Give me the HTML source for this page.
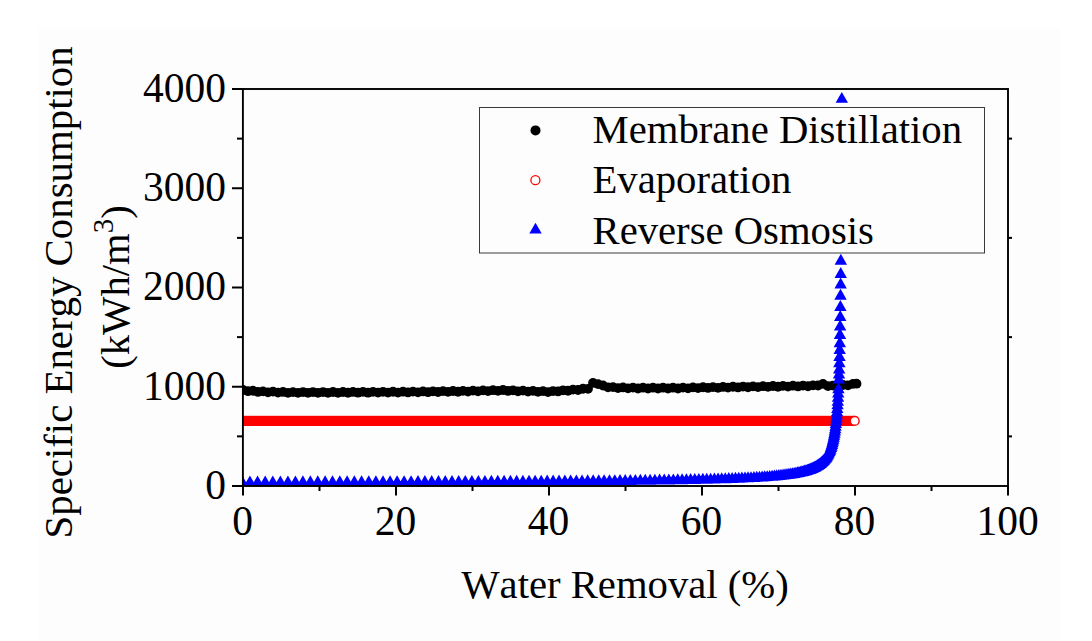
<!DOCTYPE html>
<html><head><meta charset="utf-8"><title>Specific Energy Consumption vs Water Removal</title>
<style>
html,body{margin:0;padding:0;background:#fff;}
body{width:1092px;height:641px;overflow:hidden;position:relative;font-family:"Liberation Serif",serif;}
#bg{position:absolute;left:38px;top:29px;width:1023px;height:612px;background:#fdfdfd;}
svg{position:absolute;left:0;top:0;}
text{font-family:"Liberation Serif",serif;font-kerning:none;fill:#000;}
</style></head><body>
<div id="bg"></div>
<svg width="1092" height="641" viewBox="0 0 1092 641">
<defs><clipPath id="pc"><rect x="243" y="89" width="765" height="397"/></clipPath></defs>
<g clip-path="url(#pc)">
<rect x="242.0" y="415.79999999999995" width="612.7" height="10.2" fill="#f00"/>
<circle cx="854.7" cy="420.9" r="4.4" fill="#fff" stroke="#f00" stroke-width="1.4"/>
<g fill="#000">
<circle cx="243.00" cy="390.00" r="4.9"/>
<circle cx="248.00" cy="391.18" r="4.9"/>
<circle cx="253.00" cy="390.76" r="4.9"/>
<circle cx="258.00" cy="391.95" r="4.9"/>
<circle cx="263.00" cy="391.38" r="4.9"/>
<circle cx="268.00" cy="392.32" r="4.9"/>
<circle cx="273.00" cy="391.66" r="4.9"/>
<circle cx="278.00" cy="392.60" r="4.9"/>
<circle cx="283.00" cy="391.94" r="4.9"/>
<circle cx="288.00" cy="392.88" r="4.9"/>
<circle cx="293.00" cy="392.09" r="4.9"/>
<circle cx="298.00" cy="392.88" r="4.9"/>
<circle cx="303.00" cy="392.07" r="4.9"/>
<circle cx="308.00" cy="392.86" r="4.9"/>
<circle cx="313.00" cy="392.05" r="4.9"/>
<circle cx="318.00" cy="392.84" r="4.9"/>
<circle cx="323.00" cy="392.03" r="4.9"/>
<circle cx="328.00" cy="392.82" r="4.9"/>
<circle cx="333.00" cy="392.01" r="4.9"/>
<circle cx="338.00" cy="392.80" r="4.9"/>
<circle cx="343.00" cy="391.99" r="4.9"/>
<circle cx="348.00" cy="392.76" r="4.9"/>
<circle cx="353.00" cy="391.94" r="4.9"/>
<circle cx="358.00" cy="392.72" r="4.9"/>
<circle cx="363.00" cy="391.90" r="4.9"/>
<circle cx="368.00" cy="392.67" r="4.9"/>
<circle cx="373.00" cy="391.85" r="4.9"/>
<circle cx="378.00" cy="392.63" r="4.9"/>
<circle cx="383.00" cy="391.80" r="4.9"/>
<circle cx="388.00" cy="392.58" r="4.9"/>
<circle cx="393.00" cy="391.76" r="4.9"/>
<circle cx="398.00" cy="392.54" r="4.9"/>
<circle cx="403.00" cy="391.71" r="4.9"/>
<circle cx="408.00" cy="392.47" r="4.9"/>
<circle cx="413.00" cy="391.59" r="4.9"/>
<circle cx="418.00" cy="392.32" r="4.9"/>
<circle cx="423.00" cy="391.45" r="4.9"/>
<circle cx="428.00" cy="392.17" r="4.9"/>
<circle cx="433.00" cy="391.30" r="4.9"/>
<circle cx="438.00" cy="392.02" r="4.9"/>
<circle cx="443.00" cy="391.15" r="4.9"/>
<circle cx="448.00" cy="391.88" r="4.9"/>
<circle cx="453.00" cy="391.00" r="4.9"/>
<circle cx="458.00" cy="391.73" r="4.9"/>
<circle cx="463.00" cy="390.84" r="4.9"/>
<circle cx="468.00" cy="391.53" r="4.9"/>
<circle cx="473.00" cy="390.62" r="4.9"/>
<circle cx="478.00" cy="391.32" r="4.9"/>
<circle cx="483.00" cy="390.41" r="4.9"/>
<circle cx="488.00" cy="391.11" r="4.9"/>
<circle cx="493.00" cy="390.20" r="4.9"/>
<circle cx="498.00" cy="390.90" r="4.9"/>
<circle cx="503.00" cy="390.02" r="4.9"/>
<circle cx="508.00" cy="390.97" r="4.9"/>
<circle cx="513.00" cy="390.33" r="4.9"/>
<circle cx="518.00" cy="391.28" r="4.9"/>
<circle cx="523.00" cy="390.64" r="4.9"/>
<circle cx="528.00" cy="391.57" r="4.9"/>
<circle cx="533.00" cy="390.90" r="4.9"/>
<circle cx="538.00" cy="391.82" r="4.9"/>
<circle cx="543.00" cy="391.14" r="4.9"/>
<circle cx="548.00" cy="392.07" r="4.9"/>
<circle cx="553.00" cy="391.03" r="4.9"/>
<circle cx="558.00" cy="391.45" r="4.9"/>
<circle cx="563.00" cy="390.30" r="4.9"/>
<circle cx="568.00" cy="390.77" r="4.9"/>
<circle cx="573.00" cy="389.63" r="4.9"/>
<circle cx="578.00" cy="390.01" r="4.9"/>
<circle cx="583.00" cy="388.73" r="4.9"/>
<circle cx="588.00" cy="388.83" r="4.9"/>
<circle cx="593.00" cy="382.94" r="4.9"/>
<circle cx="598.00" cy="384.10" r="4.9"/>
<circle cx="603.00" cy="385.48" r="4.9"/>
<circle cx="608.00" cy="387.32" r="4.9"/>
<circle cx="613.00" cy="387.10" r="4.9"/>
<circle cx="618.00" cy="388.15" r="4.9"/>
<circle cx="623.00" cy="387.45" r="4.9"/>
<circle cx="628.00" cy="388.34" r="4.9"/>
<circle cx="633.00" cy="387.63" r="4.9"/>
<circle cx="638.00" cy="388.50" r="4.9"/>
<circle cx="643.00" cy="387.70" r="4.9"/>
<circle cx="648.00" cy="388.50" r="4.9"/>
<circle cx="653.00" cy="387.70" r="4.9"/>
<circle cx="658.00" cy="388.50" r="4.9"/>
<circle cx="663.00" cy="387.70" r="4.9"/>
<circle cx="668.00" cy="388.50" r="4.9"/>
<circle cx="673.00" cy="387.70" r="4.9"/>
<circle cx="678.00" cy="388.50" r="4.9"/>
<circle cx="683.00" cy="387.62" r="4.9"/>
<circle cx="688.00" cy="388.28" r="4.9"/>
<circle cx="693.00" cy="387.37" r="4.9"/>
<circle cx="698.00" cy="388.10" r="4.9"/>
<circle cx="703.00" cy="387.23" r="4.9"/>
<circle cx="708.00" cy="387.97" r="4.9"/>
<circle cx="713.00" cy="387.10" r="4.9"/>
<circle cx="718.00" cy="387.83" r="4.9"/>
<circle cx="723.00" cy="386.94" r="4.9"/>
<circle cx="728.00" cy="387.65" r="4.9"/>
<circle cx="733.00" cy="386.75" r="4.9"/>
<circle cx="738.00" cy="387.46" r="4.9"/>
<circle cx="743.00" cy="386.56" r="4.9"/>
<circle cx="748.00" cy="387.27" r="4.9"/>
<circle cx="753.00" cy="386.37" r="4.9"/>
<circle cx="758.00" cy="387.09" r="4.9"/>
<circle cx="763.00" cy="386.20" r="4.9"/>
<circle cx="768.00" cy="386.91" r="4.9"/>
<circle cx="773.00" cy="386.02" r="4.9"/>
<circle cx="778.00" cy="386.74" r="4.9"/>
<circle cx="783.00" cy="385.85" r="4.9"/>
<circle cx="788.00" cy="386.57" r="4.9"/>
<circle cx="793.00" cy="385.70" r="4.9"/>
<circle cx="798.00" cy="386.42" r="4.9"/>
<circle cx="803.00" cy="385.54" r="4.9"/>
<circle cx="808.00" cy="386.26" r="4.9"/>
<circle cx="813.00" cy="385.28" r="4.9"/>
<circle cx="818.00" cy="385.50" r="4.9"/>
<circle cx="823.00" cy="383.84" r="4.9"/>
<circle cx="828.00" cy="386.10" r="4.9"/>
<circle cx="833.00" cy="385.58" r="4.9"/>
<circle cx="838.00" cy="386.18" r="4.9"/>
<circle cx="843.00" cy="385.00" r="4.9"/>
<circle cx="848.00" cy="385.30" r="4.9"/>
<circle cx="853.00" cy="383.88" r="4.9"/>
<circle cx="856.5" cy="383.7" r="4.9"/>
</g>
<path fill="#0000ff" d="M242.24 475.46L248.44 486.36L236.04 486.36ZM249.92 475.45L256.12 486.35L243.72 486.35ZM257.57 475.44L263.77 486.34L251.37 486.34ZM265.20 475.42L271.40 486.32L259.00 486.32ZM272.80 475.41L279.00 486.31L266.60 486.31ZM280.37 475.40L286.57 486.30L274.17 486.30ZM287.91 475.39L294.11 486.29L281.71 486.29ZM295.42 475.38L301.62 486.28L289.22 486.28ZM302.89 475.36L309.09 486.26L296.69 486.26ZM310.34 475.35L316.54 486.25L304.14 486.25ZM317.76 475.34L323.96 486.24L311.56 486.24ZM325.14 475.32L331.34 486.22L318.94 486.22ZM332.49 475.31L338.69 486.21L326.29 486.21ZM339.81 475.29L346.01 486.19L333.61 486.19ZM347.10 475.28L353.30 486.18L340.90 486.18ZM354.35 475.26L360.55 486.16L348.15 486.16ZM361.56 475.25L367.76 486.15L355.36 486.15ZM368.75 475.23L374.95 486.13L362.55 486.13ZM375.89 475.22L382.09 486.12L369.69 486.12ZM383.00 475.20L389.20 486.10L376.80 486.10ZM390.08 475.18L396.28 486.08L383.88 486.08ZM397.11 475.17L403.31 486.07L390.91 486.07ZM404.11 475.15L410.31 486.05L397.91 486.05ZM411.07 475.13L417.27 486.03L404.87 486.03ZM417.99 475.11L424.19 486.01L411.79 486.01ZM424.87 475.09L431.07 485.99L418.67 485.99ZM431.71 475.07L437.91 485.97L425.51 485.97ZM438.51 475.05L444.71 485.95L432.31 485.95ZM445.27 475.03L451.47 485.93L439.07 485.93ZM451.98 475.01L458.18 485.91L445.78 485.91ZM458.66 474.99L464.86 485.89L452.46 485.89ZM465.29 474.96L471.49 485.86L459.09 485.86ZM471.87 474.94L478.07 485.84L465.67 485.84ZM478.41 474.92L484.61 485.82L472.21 485.82ZM484.91 474.89L491.11 485.79L478.71 485.79ZM491.36 474.87L497.56 485.77L485.16 485.77ZM497.76 474.84L503.96 485.74L491.56 485.74ZM504.11 474.82L510.31 485.72L497.91 485.72ZM510.42 474.79L516.62 485.69L504.22 485.69ZM516.67 474.76L522.87 485.66L510.47 485.66ZM522.88 474.73L529.08 485.63L516.68 485.63ZM529.04 474.70L535.24 485.60L522.84 485.60ZM535.14 474.67L541.34 485.57L528.94 485.57ZM541.19 474.64L547.39 485.54L534.99 485.54ZM547.19 474.61L553.39 485.51L540.99 485.51ZM553.14 474.57L559.34 485.47L546.94 485.47ZM559.03 474.54L565.23 485.44L552.83 485.44ZM564.87 474.50L571.07 485.40L558.67 485.40ZM570.65 474.47L576.85 485.37L564.45 485.37ZM576.37 474.43L582.57 485.33L570.17 485.33ZM582.04 474.39L588.24 485.29L575.84 485.29ZM587.65 474.35L593.85 485.25L581.45 485.25ZM593.19 474.31L599.39 485.21L586.99 485.21ZM598.68 474.26L604.88 485.16L592.48 485.16ZM604.11 474.22L610.31 485.12L597.91 485.12ZM609.48 474.17L615.68 485.07L603.28 485.07ZM614.78 474.13L620.98 485.03L608.58 485.03ZM620.02 474.08L626.22 484.98L613.82 484.98ZM625.20 474.03L631.40 484.93L619.00 484.93ZM630.32 473.98L636.52 484.88L624.12 484.88ZM635.36 473.92L641.56 484.82L629.16 484.82ZM640.35 473.87L646.55 484.77L634.15 484.77ZM645.26 473.81L651.46 484.71L639.06 484.71ZM650.11 473.75L656.31 484.65L643.91 484.65ZM654.89 473.69L661.09 484.59L648.69 484.59ZM659.61 473.62L665.81 484.52L653.41 484.52ZM664.25 473.56L670.45 484.46L658.05 484.46ZM668.82 473.49L675.02 484.39L662.62 484.39ZM673.33 473.42L679.53 484.32L667.13 484.32ZM677.76 473.34L683.96 484.24L671.56 484.24ZM682.12 473.27L688.32 484.17L675.92 484.17ZM686.41 473.19L692.61 484.09L680.21 484.09ZM690.62 473.11L696.82 484.01L684.42 484.01ZM694.77 473.02L700.97 483.92L688.57 483.92ZM698.84 472.94L705.04 483.84L692.64 483.84ZM702.84 472.85L709.04 483.75L696.64 483.75ZM706.76 472.75L712.96 483.65L700.56 483.65ZM710.61 472.65L716.81 483.55L704.41 483.55ZM714.38 472.55L720.58 483.45L708.18 483.45ZM718.09 472.45L724.29 483.35L711.89 483.35ZM721.71 472.34L727.91 483.24L715.51 483.24ZM725.26 472.23L731.46 483.13L719.06 483.13ZM728.74 472.11L734.94 483.01L722.54 483.01ZM732.14 471.99L738.34 482.89L725.94 482.89ZM735.47 471.86L741.67 482.76L729.27 482.76ZM738.72 471.73L744.92 482.63L732.52 482.63ZM741.90 471.60L748.10 482.50L735.70 482.50ZM745.01 471.46L751.21 482.36L738.81 482.36ZM748.04 471.31L754.24 482.21L741.84 482.21ZM751.00 471.16L757.20 482.06L744.80 482.06ZM753.89 471.01L760.09 481.91L747.69 481.91ZM756.70 470.85L762.90 481.75L750.50 481.75ZM759.44 470.68L765.64 481.58L753.24 481.58ZM762.11 470.50L768.31 481.40L755.91 481.40ZM764.71 470.32L770.91 481.22L758.51 481.22ZM767.24 470.14L773.44 481.04L761.04 481.04ZM769.70 469.94L775.90 480.84L763.50 480.84ZM772.10 469.74L778.30 480.64L765.90 480.64ZM774.42 469.53L780.62 480.43L768.22 480.43ZM776.68 469.32L782.88 480.22L770.48 480.22ZM778.87 469.09L785.07 479.99L772.67 479.99ZM781.00 468.86L787.20 479.76L774.80 479.76ZM783.07 468.62L789.27 479.52L776.87 479.52ZM785.07 468.37L791.27 479.27L778.87 479.27ZM787.01 468.11L793.21 479.01L780.81 479.01ZM788.90 467.85L795.10 478.75L782.70 478.75ZM790.72 467.57L796.92 478.47L784.52 478.47ZM792.48 467.28L798.68 478.18L786.28 478.18ZM794.19 466.99L800.39 477.89L787.99 477.89ZM795.84 466.68L802.04 477.58L789.64 477.58ZM797.44 466.37L803.64 477.27L791.24 477.27ZM798.99 466.04L805.19 476.94L792.79 476.94ZM800.48 465.70L806.68 476.60L794.28 476.60ZM801.93 465.35L808.13 476.25L795.73 476.25ZM803.32 464.99L809.52 475.89L797.12 475.89ZM804.67 464.62L810.87 475.52L798.47 475.52ZM805.97 464.23L812.17 475.13L799.77 475.13ZM807.22 463.83L813.42 474.73L801.02 474.73ZM808.45 463.42L814.65 474.32L802.25 474.32ZM809.64 462.98L815.84 473.88L803.44 473.88ZM810.81 462.53L817.01 473.43L804.61 473.43ZM811.94 462.06L818.14 472.96L805.74 472.96ZM813.04 461.57L819.24 472.47L806.84 472.47ZM814.11 461.05L820.31 471.95L807.91 471.95ZM815.15 460.51L821.35 471.41L808.95 471.41ZM816.17 459.95L822.37 470.85L809.97 470.85ZM817.15 459.36L823.35 470.26L810.95 470.26ZM818.11 458.75L824.31 469.65L811.91 469.65ZM819.04 458.11L825.24 469.01L812.84 469.01ZM819.94 457.43L826.14 468.33L813.74 468.33ZM820.81 456.73L827.01 467.63L814.61 467.63ZM821.65 455.99L827.85 466.89L815.45 466.89ZM822.47 455.22L828.67 466.12L816.27 466.12ZM823.27 454.42L829.47 465.32L817.07 465.32ZM824.04 453.57L830.24 464.47L817.84 464.47ZM824.78 452.69L830.98 463.59L818.58 463.59ZM825.50 451.76L831.70 462.66L819.30 462.66ZM826.20 450.79L832.40 461.69L820.00 461.69ZM826.87 449.78L833.07 460.68L820.67 460.68ZM827.52 448.71L833.72 459.61L821.32 459.61ZM828.15 447.59L834.35 458.49L821.95 458.49ZM828.75 446.42L834.95 457.32L822.55 457.32ZM829.34 445.19L835.54 456.09L823.14 456.09ZM829.90 443.90L836.10 454.80L823.70 454.80ZM830.44 442.54L836.64 453.44L824.24 453.44ZM830.96 441.12L837.16 452.02L824.76 452.02ZM831.47 439.63L837.67 450.53L825.27 450.53ZM831.95 438.06L838.15 448.96L825.75 448.96ZM832.42 436.41L838.62 447.31L826.22 447.31ZM832.87 434.68L839.07 445.58L826.67 445.58ZM833.30 432.86L839.50 443.76L827.10 443.76ZM833.72 430.95L839.92 441.85L827.52 441.85ZM834.11 428.94L840.31 439.84L827.91 439.84ZM834.50 426.82L840.70 437.72L828.30 437.72ZM834.87 424.60L841.07 435.50L828.67 435.50ZM835.22 422.26L841.42 433.16L829.02 433.16ZM835.56 419.80L841.76 430.70L829.36 430.70ZM835.88 417.20L842.08 428.10L829.68 428.10ZM836.19 414.47L842.39 425.37L829.99 425.37ZM836.49 411.60L842.69 422.50L830.29 422.50ZM836.78 408.57L842.98 419.47L830.58 419.47ZM837.05 405.38L843.25 416.28L830.85 416.28ZM837.31 402.02L843.51 412.92L831.11 412.92ZM837.56 398.47L843.76 409.37L831.36 409.37ZM837.80 394.73L844.00 405.63L831.60 405.63ZM838.03 390.79L844.23 401.69L831.83 401.69ZM838.25 386.63L844.45 397.53L832.05 397.53ZM838.46 382.25L844.66 393.15L832.26 393.15ZM838.85 372.50L845.05 383.40L832.65 383.40ZM839.03 367.50L845.23 378.40L832.83 378.40ZM839.19 362.50L845.39 373.40L832.99 373.40ZM839.37 356.25L845.57 367.15L833.17 367.15ZM839.53 350.00L845.73 360.90L833.33 360.90ZM839.69 343.00L845.89 353.90L833.49 353.90ZM839.83 336.25L846.03 347.15L833.63 347.15ZM839.98 328.00L846.18 338.90L833.78 338.90ZM840.13 319.50L846.33 330.40L833.93 330.40ZM840.26 310.00L846.46 320.90L834.06 320.90ZM840.39 300.00L846.59 310.90L834.19 310.90ZM840.52 288.75L846.72 299.65L834.32 299.65ZM840.64 277.50L846.84 288.40L834.44 288.40ZM840.73 267.00L846.93 277.90L834.53 277.90ZM840.84 253.75L847.04 264.65L834.64 264.65ZM841.80 91.90L848.00 102.80L835.60 102.80Z"/>
</g>
<g stroke="#000" stroke-width="2" fill="none" stroke-linecap="butt">
<rect x="242.9" y="89.0" width="765.1" height="397.0" stroke-width="1.9"/>
<line x1="232.0" y1="486.00" x2="243.0" y2="486.00"/>
<line x1="232.0" y1="386.75" x2="243.0" y2="386.75"/>
<line x1="232.0" y1="287.50" x2="243.0" y2="287.50"/>
<line x1="232.0" y1="188.25" x2="243.0" y2="188.25"/>
<line x1="232.0" y1="89.00" x2="243.0" y2="89.00"/>
<line x1="237.0" y1="436.38" x2="243.0" y2="436.38"/>
<line x1="1008.0" y1="436.38" x2="1012.0" y2="436.38"/>
<line x1="237.0" y1="337.12" x2="243.0" y2="337.12"/>
<line x1="1008.0" y1="337.12" x2="1012.0" y2="337.12"/>
<line x1="237.0" y1="237.88" x2="243.0" y2="237.88"/>
<line x1="1008.0" y1="237.88" x2="1012.0" y2="237.88"/>
<line x1="237.0" y1="138.62" x2="243.0" y2="138.62"/>
<line x1="1008.0" y1="138.62" x2="1012.0" y2="138.62"/>
<line x1="243.00" y1="486.0" x2="243.00" y2="495.5"/>
<line x1="396.00" y1="486.0" x2="396.00" y2="495.5"/>
<line x1="549.00" y1="486.0" x2="549.00" y2="495.5"/>
<line x1="702.00" y1="486.0" x2="702.00" y2="495.5"/>
<line x1="855.00" y1="486.0" x2="855.00" y2="495.5"/>
<line x1="1008.00" y1="486.0" x2="1008.00" y2="495.5"/>
<line x1="319.50" y1="486.0" x2="319.50" y2="491.0"/>
<line x1="472.50" y1="486.0" x2="472.50" y2="491.0"/>
<line x1="625.50" y1="486.0" x2="625.50" y2="491.0"/>
<line x1="778.50" y1="486.0" x2="778.50" y2="491.0"/>
<line x1="931.50" y1="486.0" x2="931.50" y2="491.0"/>
</g>
<rect x="479.5" y="107.5" width="505" height="145.5" fill="#fdfdfd" stroke="#3a3a3a" stroke-width="1"/>
<circle cx="535.5" cy="130.4" r="5.0" fill="#000"/>
<circle cx="535.4" cy="180.2" r="4.5" fill="#fff" stroke="#f00" stroke-width="1.3"/>
<path fill="#0000ff" d="M535.50 222.70L541.70 233.60L529.30 233.60Z"/>
<text x="592.5" y="143" font-size="40.7">Membrane Distillation</text>
<text x="592.5" y="193.3" font-size="40.7">Evaporation</text>
<text x="592.5" y="244.0" font-size="40.7">Reverse Osmosis</text>
<text x="226.0" y="498.90" font-size="41.5" text-anchor="end">0</text>
<text x="226.0" y="399.65" font-size="41.5" text-anchor="end">1000</text>
<text x="226.0" y="300.40" font-size="41.5" text-anchor="end">2000</text>
<text x="226.0" y="201.15" font-size="41.5" text-anchor="end">3000</text>
<text x="226.0" y="101.90" font-size="41.5" text-anchor="end">4000</text>
<text x="242.50" y="534.8" font-size="41.5" text-anchor="middle">0</text>
<text x="395.50" y="534.8" font-size="41.5" text-anchor="middle">20</text>
<text x="548.50" y="534.8" font-size="41.5" text-anchor="middle">40</text>
<text x="701.50" y="534.8" font-size="41.5" text-anchor="middle">60</text>
<text x="854.50" y="534.8" font-size="41.5" text-anchor="middle">80</text>
<text x="1007.50" y="534.8" font-size="41.5" text-anchor="middle">100</text>
<text x="625.0" y="597.5" font-size="40.7" text-anchor="middle">Water Removal (%)</text>
<text transform="translate(72.4 292.4) rotate(-90)" font-size="40.85" text-anchor="middle">Specific Energy Consumption</text>
<text transform="translate(129.2 287.0) rotate(-90)" font-size="40.7" text-anchor="middle">(kWh/m<tspan font-size="29" dy="-16">3</tspan><tspan dy="16">)</tspan></text>
</svg></body></html>
